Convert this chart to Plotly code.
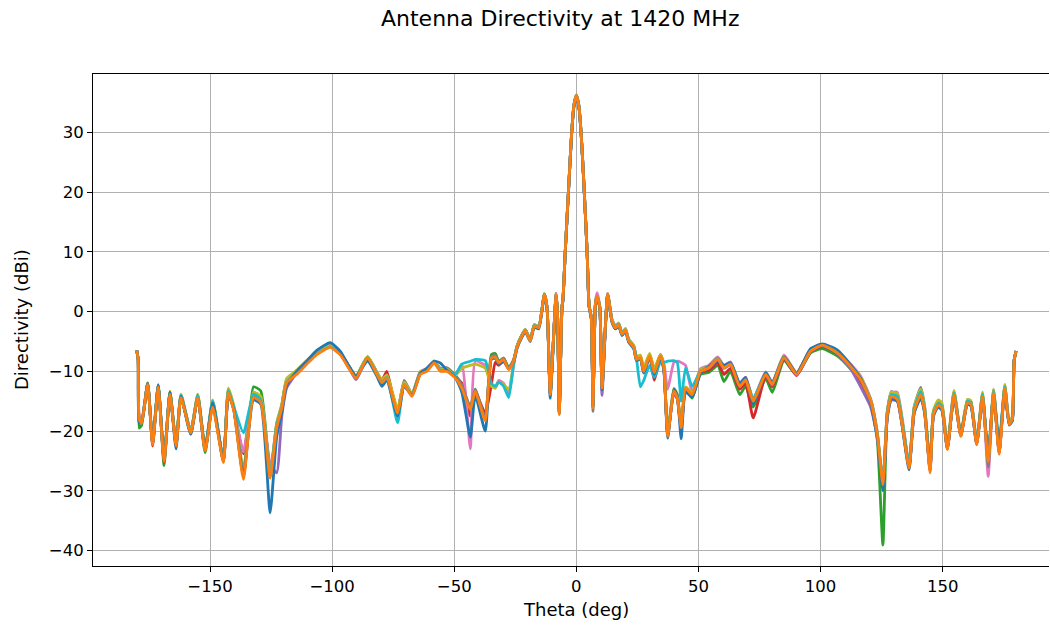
import plotly.graph_objects as go

THETA = [
    -180, -179.4, -179.0, -178.0, -175.5, -173.5, -171.2, -168.8, -166.4, -163.9, -161.9, -157.9,
    -155.0, -152.0, -148.9, -144.5, -142.5, -140.2, -136.3, -132.2, -129.2, -125.4, -122.7, -120.6,
    -118.6, -114.5, -110.4, -106.3, -100.8, -96.7, -93.3, -90.2, -85.5, -81.7, -79.6, -77.6, -73.2,
    -70.5, -67.3, -63.9, -61.2, -58.2, -55.7, -53.0, -49.6,
    -46.9, -43.4, -41.4, -37.3, -34.8, -33.2, -31.8, -29.8, -27.7, -25.7, -24.3, -22.3, -20.9, -18.9,
    -17.2, -15.4,
    -13.1, -12.0, -10.7, -8.3, -7.7, -7.0, -5.9, -5.5, -4.5, -3.0, -2.0, -1.0, 0, 1.0, 2.0, 3.0, 4.4,
    5.2, 6.1, 6.8, 7.8, 8.5, 9.6, 10.5, 12.8,
    14.6, 16.0, 17.3, 18.7, 20.1, 21.4, 23.5, 24.6, 26.2, 27.6, 30.0, 31.9, 34.4, 35.8, 37.4, 39.9,
    41.3, 42.9, 44.7, 47.4,
    50.8, 54.2, 57.9, 60.4, 63.1, 66.9, 69.3, 72.4, 77.5, 80.2, 85.0, 90.2, 95.9, 100.7, 106.8, 112.3,
    116.4, 120.5, 123.2,
    125.5, 127.3, 129.0, 131.4, 136.2, 138.3, 141.0, 142.6, 144.8, 146.2, 148.1, 149.6, 151.9, 154.6,
    157.4, 160.1, 161.5, 163.9, 166.3, 168.6, 170.8, 173.1, 175.4, 177.2, 178.5, 179.2, 180,
]

GREEN = [
    -6.5, -8.0, -19.5, -19.0, -12.3, -22.0, -12.4, -25.8, -13.6, -22.2, -14.2, -20.5, -14.3, -23.6, -15.6, -24.8, -13.4, -16.2, -27.5, -12.6, -13.3, -27.0, -19.8, -15.8,
    -11.5, -10.2, -8.5, -7.0, -5.7, -7.0, -9.2, -10.9, -7.6, -10.4, -11.8, -11.0, -16.5, -12.0, -14.0, -10.3, -9.8, -8.4, -9.6, -9.6, -10.8,
    -12.5, -16.0, -13.0, -18.0, -7.2, -7.0, -8.3, -7.8, -9.4, -8.1, -5.8, -3.9, -3.0, -4.7, -2.2, -2.5,
    3.0, 0.8, -13.6, 3.0, -0.4, -16.8, 0.8, 2.1, 10.6, 22.1, 29.6, 34.6, 36.3, 34.6, 29.6, 22.1, 10.1, 1.1, -0.9, -15.8, 1.4, 2.7, 0.8, -12.5, 3.0,
    -1.5, -2.6, -2.1, -3.7, -3.0, -4.8, -5.9, -7.8, -7.6, -9.8, -7.3, -10.0, -7.3, -9.2, -20.5, -13.0, -14.1, -19.0, -13.0, -14.5,
    -10.5, -10.2, -9.0, -11.7, -10.0, -13.9, -12.5, -16.0, -11.2, -13.5, -8.2, -10.6, -6.9, -6.2, -7.4, -9.6, -11.8, -15.5, -21.5,
    -39.1, -17.0, -14.0, -14.5, -26.0, -16.4, -13.6, -16.5, -25.0, -17.0, -15.5, -15.9, -22.8, -13.6, -20.6, -15.0, -15.2, -22.0, -14.0, -24.8, -13.4, -23.6, -12.6, -18.7, -17.8, -8.2, -6.6,
]

RED = [
    -6.5, -8.0, -18.2, -18.5, -12.0, -22.5, -12.5, -25.3, -13.6, -22.3, -14.1, -20.1, -14.2, -23.2, -15.5, -25.0, -13.5, -16.4, -23.8, -14.0, -14.8, -27.5, -19.0, -15.8,
    -11.6, -10.2, -8.5, -6.9, -5.7, -7.0, -9.0, -10.9, -7.6, -10.2, -11.5, -10.0, -17.3, -12.0, -14.0, -10.2, -9.7, -8.4, -9.8, -9.8, -10.9,
    -12.0, -17.5, -13.5, -17.0, -12.2, -8.5, -9.0, -8.3, -9.6, -8.2, -5.9, -4.0, -3.1, -4.8, -2.3, -2.6,
    2.9, 0.7, -13.7, 2.9, -0.5, -16.9, 0.7, 2.0, 10.5, 22.0, 29.5, 34.5, 36.2, 34.5, 29.5, 22.0, 10.0, 1.0, -1.0, -15.9, 1.3, 2.6, 0.7, -12.9, 2.9,
    -1.6, -2.7, -2.2, -3.8, -3.1, -4.9, -6.0, -8.0, -7.8, -10.2, -7.5, -11.5, -7.6, -9.6, -20.6, -13.6, -14.6, -19.8, -13.2, -14.2,
    -10.2, -9.8, -8.6, -10.5, -9.5, -13.0, -12.0, -17.8, -10.8, -12.6, -7.9, -10.7, -6.7, -5.8, -7.0, -9.3, -11.7, -15.2, -20.8,
    -29.5, -17.4, -14.3, -14.8, -26.0, -16.9, -13.8, -16.9, -26.5, -17.3, -15.6, -16.2, -23.0, -14.0, -20.8, -15.4, -15.6, -22.2, -14.3, -25.0, -13.7, -23.7, -12.9, -18.9, -18.1, -8.3, -6.6,
]

PURPLE = [
    -6.5, -8.0, -18.0, -18.7, -12.1, -22.2, -12.5, -24.9, -13.7, -22.4, -14.3, -20.2, -14.3, -23.1, -15.6, -25.1, -13.4, -16.5, -27.5, -14.2, -15.0, -25.5, -27.0, -17.5,
    -12.8, -10.3, -8.6, -7.0, -5.8, -7.1, -9.3, -11.4, -7.7, -10.4, -11.8, -11.0, -16.7, -12.1, -14.1, -10.4, -9.9, -8.5, -9.9, -9.9, -11.0,
    -12.7, -16.2, -13.2, -18.0, -7.7, -7.5, -8.5, -7.9, -9.6, -8.2, -5.9, -4.0, -3.1, -4.8, -2.3, -2.6,
    2.8, 0.6, -13.8, 2.8, -0.7, -17.0, 0.6, 1.9, 10.4, 21.9, 29.4, 34.4, 36.1, 34.4, 29.4, 21.9, 9.9, 0.9, -1.1, -16.0, 1.2, 2.5, 0.6, -14.0, 2.8,
    -1.7, -2.8, -2.3, -3.9, -3.2, -5.0, -6.1, -8.1, -7.8, -10.1, -7.5, -10.3, -7.5, -9.5, -20.7, -13.4, -14.5, -19.5, -13.0, -14.0,
    -10.1, -9.5, -8.1, -9.5, -8.9, -12.6, -11.5, -15.2, -10.6, -12.3, -7.8, -10.6, -6.7, -5.7, -7.0, -9.6, -12.6, -16.0, -21.0,
    -29.0, -17.8, -14.8, -15.0, -26.0, -16.9, -14.0, -16.8, -26.8, -17.3, -15.8, -16.2, -23.0, -14.0, -20.8, -15.4, -15.6, -22.2, -14.3, -25.0, -13.7, -23.7, -12.9, -18.9, -18.1, -8.3, -6.6,
]

PINK = [
    -6.5, -8.0, -17.5, -18.3, -12.0, -22.0, -12.3, -24.8, -13.4, -22.2, -14.0, -20.0, -14.0, -23.0, -15.0, -25.0, -13.0, -16.2, -23.5, -13.8, -14.5, -27.0, -18.8, -15.7,
    -11.4, -10.0, -8.2, -6.8, -5.6, -6.9, -9.0, -10.8, -7.7, -10.2, -11.6, -10.8, -16.5, -11.8, -13.8, -10.0, -9.5, -8.3, -9.6, -9.8, -10.6,
    -8.8, -23.0, -8.3, -9.0, -12.3, -12.8, -11.5, -12.0, -13.8, -9.0, -6.0, -4.0, -3.1, -4.8, -2.3, -2.6,
    2.9, 0.7, -13.8, 3.1, -0.4, -16.9, 0.9, 2.1, 10.6, 22.1, 29.6, 34.6, 36.3, 34.6, 29.6, 22.1, 10.1, 1.1, -0.8, -15.9, 1.6, 3.2, 0.9, -13.3, 3.0,
    -1.3, -2.4, -1.9, -3.5, -2.8, -4.6, -5.7, -7.6, -7.4, -9.6, -7.1, -9.8, -7.2, -8.6, -13.0, -8.5, -8.3, -8.5, -9.0, -13.5,
    -9.6, -9.0, -7.6, -9.0, -8.4, -12.0, -11.0, -14.6, -10.1, -11.8, -7.3, -10.2, -6.3, -5.5, -6.6, -8.8, -10.8, -14.6, -20.2,
    -28.5, -16.7, -13.6, -13.5, -25.8, -16.2, -13.3, -16.2, -26.6, -16.7, -15.2, -15.6, -22.5, -13.4, -20.4, -14.8, -15.0, -21.8, -13.7, -27.6, -13.1, -23.4, -12.3, -18.5, -17.6, -8.2, -6.6,
]

GRAY = [
    -6.5, -8.0, -18.0, -18.5, -12.0, -22.1, -12.4, -24.9, -13.5, -22.3, -14.1, -20.1, -14.1, -23.1, -15.2, -25.1, -13.2, -16.4, -26.5, -14.0, -14.8, -27.5, -19.2, -15.8,
    -11.6, -10.2, -8.5, -6.9, -5.7, -7.0, -9.1, -10.8, -7.6, -10.2, -11.6, -10.8, -16.6, -11.5, -13.8, -10.2, -9.7, -8.4, -9.5, -9.4, -10.6,
    -12.3, -16.0, -13.0, -17.8, -7.5, -7.3, -8.4, -7.8, -9.5, -8.1, -5.8, -3.9, -3.0, -4.7, -2.2, -2.5,
    2.9, 0.7, -13.7, 2.9, -0.5, -17.2, 0.8, 2.0, 10.5, 22.0, 29.5, 34.5, 36.2, 34.5, 29.5, 22.0, 10.0, 1.0, -1.0, -16.7, 1.3, 2.6, 0.7, -12.7, 2.9,
    -1.5, -2.6, -2.1, -3.7, -3.0, -4.7, -5.8, -7.8, -7.6, -9.8, -7.2, -10.0, -7.2, -9.2, -20.6, -13.1, -14.2, -19.2, -12.7, -13.7,
    -9.8, -9.2, -7.8, -9.2, -8.6, -12.3, -11.2, -14.8, -10.3, -12.0, -7.5, -10.3, -6.4, -5.5, -6.8, -9.1, -11.2, -14.8, -20.4,
    -28.8, -16.8, -13.4, -14.0, -25.8, -16.0, -12.7, -16.0, -26.5, -16.8, -15.2, -15.6, -22.8, -13.5, -20.6, -15.0, -15.1, -22.0, -13.8, -26.0, -13.2, -23.5, -12.4, -18.6, -17.8, -8.2, -6.6,
]

OLIVE = [
    -6.5, -8.0, -18.0, -18.4, -11.9, -22.0, -12.2, -24.7, -13.3, -22.0, -13.8, -20.0, -13.8, -22.8, -14.8, -24.8, -12.8, -15.8, -27.0, -13.5, -14.2, -27.2, -18.6, -15.5,
    -11.2, -9.8, -8.2, -6.8, -5.7, -7.0, -9.0, -10.7, -7.5, -10.1, -11.4, -10.6, -16.3, -11.8, -13.7, -10.1, -9.6, -8.3, -9.6, -9.6, -10.7,
    -9.5, -9.0, -8.8, -9.5, -12.5, -12.8, -11.8, -12.2, -13.0, -8.6, -5.8, -3.9, -3.0, -4.7, -2.2, -2.5,
    2.9, 0.7, -13.7, 2.9, -0.5, -16.9, 0.8, 2.0, 10.5, 22.0, 29.5, 34.5, 36.2, 34.5, 29.5, 22.0, 10.0, 1.0, -1.0, -15.5, 1.3, 2.6, 0.7, -12.7, 2.9,
    -1.4, -2.5, -2.0, -3.6, -2.9, -4.6, -5.7, -7.5, -7.3, -9.3, -7.0, -9.5, -7.2, -9.0, -20.0, -12.8, -13.8, -19.0, -12.6, -13.6,
    -9.8, -9.2, -7.8, -9.2, -8.6, -12.3, -11.2, -14.8, -10.3, -12.0, -7.5, -10.3, -6.4, -5.5, -6.7, -9.0, -11.0, -14.8, -20.3,
    -28.7, -16.6, -13.5, -13.8, -25.5, -15.9, -13.0, -15.9, -26.0, -16.5, -14.8, -15.2, -22.4, -13.2, -20.3, -14.7, -14.9, -21.8, -13.5, -25.0, -13.0, -23.2, -12.2, -18.4, -17.6, -8.2, -6.6,
]

CYAN = [
    -6.5, -8.0, -18.0, -18.5, -12.0, -22.0, -12.3, -24.8, -13.5, -22.2, -14.0, -20.1, -14.0, -23.0, -15.0, -25.0, -13.2, -16.0, -20.3, -13.8, -14.8, -27.5, -19.0, -16.0,
    -11.8, -10.4, -8.7, -7.1, -5.9, -7.0, -9.0, -10.9, -7.7, -10.4, -11.8, -11.0, -18.6, -12.2, -14.0, -10.3, -9.8, -8.5, -9.8, -9.9, -10.5,
    -8.8, -8.3, -8.0, -8.2, -12.0, -12.5, -11.8, -12.5, -14.4, -8.8, -6.0, -4.0, -3.1, -4.8, -2.3, -2.6,
    2.8, 0.6, -13.8, 2.8, -0.6, -17.0, 0.7, 2.0, 10.5, 22.0, 29.5, 34.5, 36.2, 34.5, 29.5, 22.0, 10.0, 1.0, -1.0, -16.0, 1.3, 2.6, 0.7, -12.8, 2.8,
    -1.5, -2.6, -2.1, -3.7, -3.0, -4.8, -5.9, -7.8, -12.6, -11.5, -9.0, -11.0, -8.5, -8.5, -8.3, -8.2, -8.5, -15.0, -9.4, -12.5,
    -10.0, -9.3, -7.8, -9.1, -8.5, -12.2, -11.2, -14.6, -10.3, -12.0, -7.6, -10.4, -6.5, -5.6, -6.9, -9.1, -11.3, -15.0, -20.6,
    -28.8, -16.9, -13.9, -14.2, -25.5, -16.3, -13.4, -16.3, -26.3, -16.9, -15.4, -15.8, -22.8, -13.6, -20.6, -15.0, -15.2, -22.0, -13.8, -24.5, -13.3, -22.0, -12.6, -18.7, -17.9, -8.3, -6.6,
]

BLUE = [
    -6.5, -8.0, -18.5, -18.5, -12.0, -22.0, -12.3, -24.8, -13.5, -23.0, -14.2, -20.5, -14.5, -23.0, -15.3, -25.0, -14.0, -16.5, -27.5, -14.8, -15.5, -33.7, -21.0, -16.8,
    -12.3, -10.0, -8.3, -6.5, -5.2, -6.6, -9.0, -10.8, -8.3, -10.8, -12.5, -11.5, -17.5, -12.5, -14.0, -10.3, -9.5, -8.3, -8.6, -9.8, -11.0,
    -13.5, -21.0, -14.0, -20.0, -8.0, -7.8, -8.8, -8.2, -9.5, -8.5, -6.2, -4.3, -3.4, -5.0, -2.6, -2.9,
    2.7, 0.5, -14.5, 2.7, -0.8, -16.8, 0.5, 1.8, 10.3, 21.8, 29.3, 34.3, 36.0, 34.3, 29.3, 21.8, 9.8, 0.8, -1.2, -15.8, 1.1, 2.4, 0.5, -13.2, 2.7,
    -1.8, -2.9, -2.4, -4.0, -3.3, -5.1, -6.2, -8.2, -7.9, -10.3, -7.6, -10.5, -7.6, -9.8, -21.2, -13.0, -14.0, -21.3, -13.5, -14.3,
    -10.3, -9.2, -8.2, -9.0, -8.6, -12.0, -11.0, -15.5, -10.2, -12.0, -7.6, -10.3, -6.2, -5.4, -6.4, -8.9, -11.2, -15.3, -21.0,
    -30.0, -17.5, -14.6, -15.0, -26.5, -17.0, -14.5, -17.0, -26.0, -17.5, -16.0, -16.5, -22.8, -14.3, -20.5, -15.5, -15.8, -22.0, -14.5, -24.0, -14.0, -22.5, -13.2, -19.0, -18.3, -8.3, -6.6,
]

ORANGE = [
    -6.5, -8.0, -18.0, -18.7, -12.2, -22.3, -12.6, -25.1, -13.8, -22.5, -14.4, -20.3, -14.4, -23.3, -16.0, -25.3, -13.6, -16.7, -28.1, -14.4, -15.2, -27.9, -19.5, -16.1,
    -11.9, -10.5, -8.8, -7.2, -6.0, -7.2, -9.4, -11.1, -7.8, -10.5, -11.9, -11.1, -17.0, -12.2, -14.2, -10.5, -10.0, -8.6, -10.0, -10.0, -11.1,
    -12.8, -16.4, -13.3, -18.3, -7.8, -7.6, -8.6, -8.0, -9.7, -8.3, -6.0, -4.1, -3.2, -4.9, -2.4, -2.7,
    2.9, 0.7, -13.9, 2.9, -0.6, -17.2, 0.7, 2.0, 10.5, 22.0, 29.5, 34.5, 36.2, 34.5, 29.5, 22.0, 10.0, 1.0, -1.0, -16.1, 1.3, 2.6, 0.7, -12.8, 2.9,
    -1.6, -2.7, -2.2, -3.8, -3.1, -4.9, -6.0, -8.0, -7.7, -10.0, -7.4, -10.2, -7.4, -9.4, -20.9, -13.3, -14.4, -19.4, -12.8, -13.9,
    -10.0, -9.4, -8.0, -9.4, -8.8, -12.5, -11.4, -15.0, -10.5, -12.2, -7.7, -10.5, -6.6, -5.6, -6.9, -9.2, -11.4, -15.0, -20.6,
    -29.0, -17.2, -14.2, -14.7, -26.2, -16.7, -13.9, -16.7, -27.0, -17.2, -15.7, -16.1, -23.1, -13.9, -20.9, -15.3, -15.5, -22.3, -14.2, -25.1, -13.6, -23.9, -12.8, -18.9, -18.0, -8.3, -6.6,
]

SERIES = [
    ("#2ca02c", GREEN), ("#d62728", RED), ("#9467bd", PURPLE), ("#e377c2", PINK),
    ("#7f7f7f", GRAY), ("#bcbd22", OLIVE), ("#17becf", CYAN), ("#1f77b4", BLUE), ("#ff7f0e", ORANGE),
]

for c, s in SERIES:
    assert len(s) == len(THETA), (c, len(s), len(THETA))

fig = go.Figure()
for color, vals in SERIES:
    fig.add_trace(go.Scatter(x=THETA, y=vals, mode="lines",
                             line=dict(color=color, width=2.8, shape="spline", smoothing=0.5),
                             showlegend=False, hoverinfo="skip"))

FONT = "DejaVu Sans"
PW, PH = 956, 492
fig.update_layout(
    width=1050, height=625,
    margin=dict(l=93, r=1, t=74, b=59),
    paper_bgcolor="white", plot_bgcolor="white",
    font=dict(family=FONT, size=17, color="black"),
    showlegend=False,
    annotations=[
        dict(text="Antenna Directivity at 1420 MHz", xref="paper", yref="paper",
             x=(560 - 93) / PW, y=(566 - 19) / PH, xanchor="center", yanchor="middle",
             showarrow=False, font=dict(family=FONT, size=22, color="black")),
        dict(text="Theta (deg)", xref="paper", yref="paper",
             x=(576 - 93) / PW, y=-(609 - 566) / PH, xanchor="center", yanchor="middle",
             showarrow=False, font=dict(family=FONT, size=18, color="black")),
        dict(text="Directivity (dBi)", xref="paper", yref="paper", textangle=-90,
             x=-(93 - 21) / PW, y=0.5, xanchor="center", yanchor="middle",
             showarrow=False, font=dict(family=FONT, size=18, color="black")),
    ],
)

fig.update_xaxes(range=[-197.9, 193.5], tickvals=[-150, -100, -50, 0, 50, 100, 150],
                 showgrid=True, gridcolor="#b0b0b0", gridwidth=1,
                 showline=True, linecolor="black", linewidth=1, mirror=True,
                 ticks="outside", ticklen=5, tickcolor="black", zeroline=False,
                 tickfont=dict(family=FONT, size=16.5))
fig.update_yaxes(range=[-42.6, 39.8], tickvals=[-40, -30, -20, -10, 0, 10, 20, 30],
                 showgrid=True, gridcolor="#b0b0b0", gridwidth=1,
                 showline=True, linecolor="black", linewidth=1, mirror=False,
                 ticks="outside", ticklen=5, tickcolor="black", zeroline=False,
                 tickfont=dict(family=FONT, size=16.5))

fig.write_html("out.html")
